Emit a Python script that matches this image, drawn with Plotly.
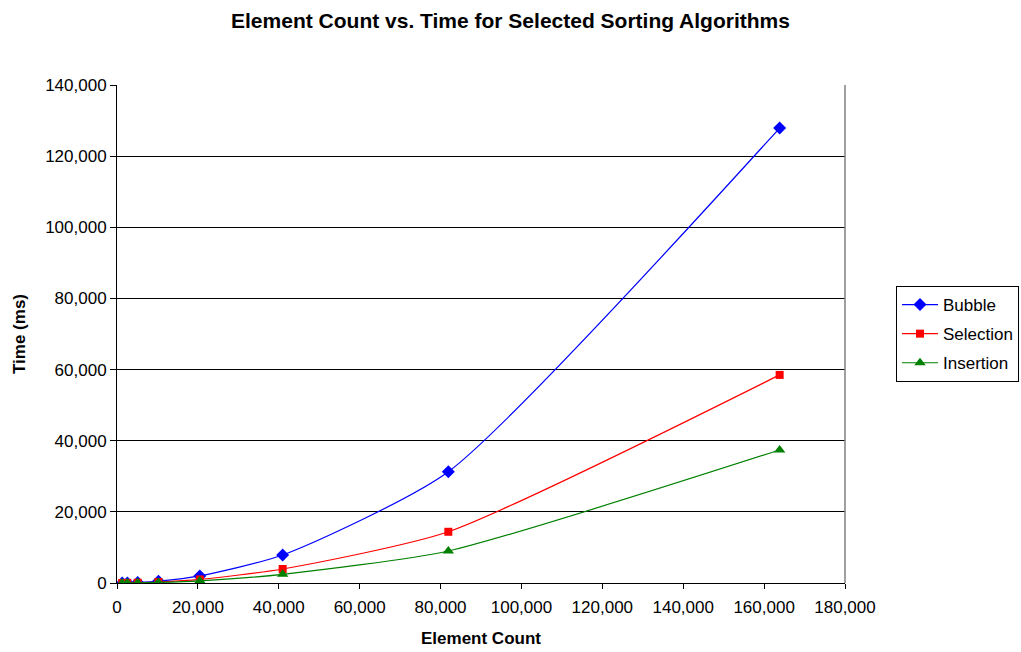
import plotly.graph_objects as go

element_count = [1280, 2560, 5120, 10240, 20480, 40960, 81920, 163840]
bubble = [10, 35, 130, 500, 2000, 7870, 31280, 127900]
selection = [5, 18, 65, 260, 1000, 3930, 14400, 58500]
insertion = [3, 10, 40, 155, 620, 2440, 9000, 37400]

FONT = "Liberation Sans, Arial, sans-serif"

fig = go.Figure()
series = [
    ("Bubble", bubble, "#0000FF", "diamond", 10),
    ("Selection", selection, "#FF0000", "square", 8),
    ("Insertion", insertion, "#008000", "triangle-up", 10),
]
for name, vals, color, sym, size in series:
    fig.add_trace(go.Scatter(
        x=element_count, y=vals, name=name, mode="lines+markers",
        legendgroup=name,
        line=dict(color=color, width=1.2, shape="spline", smoothing=0.6),
        marker=dict(symbol=sym, size=size, color=color),
    ))

fig.update_layout(
    width=1021, height=652,
    paper_bgcolor="white", plot_bgcolor="white",
    margin=dict(l=117, r=176, t=85, b=69, autoexpand=False),
    font=dict(family=FONT, size=17, color="black"),
    title=dict(text="<b>Element Count vs. Time for Selected Sorting Algorithms</b>",
               x=0.5, xanchor="center", y=0.968, yanchor="middle",
               font=dict(family=FONT, size=21, color="black")),
    legend=dict(xref="container", yref="container",
                x=896 / 1021, xanchor="left", y=1 - 334 / 652, yanchor="middle",
                bordercolor="black", borderwidth=1, bgcolor="white",
                font=dict(family=FONT, size=17), tracegroupgap=4,
                itemwidth=36),
    showlegend=True,
)
fig.update_xaxes(
    range=[0, 180000], dtick=20000, tickformat=",", automargin=False,
    showgrid=False, zeroline=False,
    showline=True, linecolor="black", linewidth=1,
    ticks="outside", ticklen=5, tickcolor="black", ticklabelstandoff=4,
    title=dict(text="<b>Element Count</b>", font=dict(family=FONT, size=17), standoff=15),
    tickfont=dict(family=FONT, size=17),
)
fig.update_yaxes(
    range=[0, 140000], dtick=20000, tickformat=",", automargin=False,
    showgrid=True, gridcolor="black", gridwidth=1, zeroline=False,
    showline=True, linecolor="black", linewidth=1,
    ticks="outside", ticklen=6, tickcolor="black",
    title=dict(text="<b>Time (ms)</b>", font=dict(family=FONT, size=17), standoff=15),
    tickfont=dict(family=FONT, size=17),
)
fig.add_shape(type="line", xref="paper", yref="paper", x0=1, x1=1, y0=0, y1=1,
              line=dict(color="#808080", width=1.5))

fig.write_html("out.html", config={"displayModeBar": False},
               post_script="document.body.style.margin='0';document.body.style.overflow='hidden';")
